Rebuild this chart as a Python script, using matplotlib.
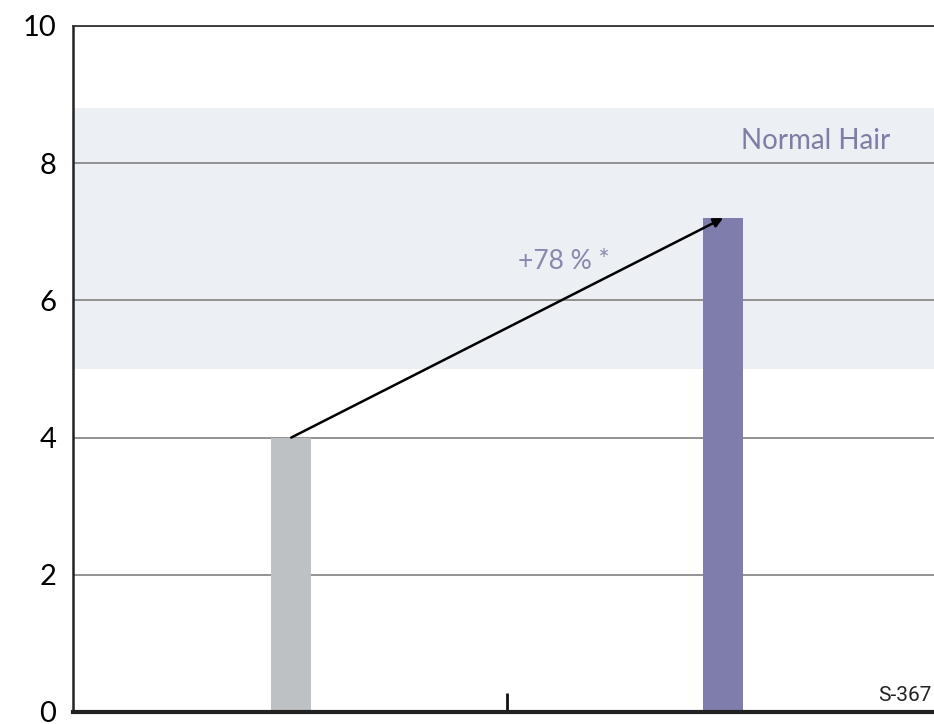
import matplotlib
matplotlib.use("Agg")
import matplotlib.pyplot as plt

# Data
categories = ["Before", "After"]
values = [4.0, 7.2]
bar_colors = ["#bdc1c3", "#7f7dab"]
yticks = [0, 2, 4, 6, 8, 10]
normal_band = (5.0, 8.8)
change_label = "+78 % *"
band_label = "Normal Hair"
code_label = "S-367"

plt.rcParams['font.family'] = ['Lato', 'DejaVu Sans']

fig = plt.figure(figsize=(9.34, 7.24), dpi=100)
ax = fig.add_axes([0.0782, 0.0166, 0.9218, 0.9475])

x = list(range(len(categories)))
ax.set_xlim(-0.505, 1.488)
ax.set_ylim(0, 10)

# Normal band
ax.axhspan(normal_band[0], normal_band[1], color="#eceff3", zorder=0, lw=0)

# gridlines
for t in yticks[1:]:
    ax.axhline(t, color="#8a8a8a", lw=1.3, zorder=1)

ax.bar(x, values, width=0.093, color=bar_colors, zorder=2)

# arrow
ax.annotate("", xy=(x[1], values[1]), xytext=(x[0], values[0]),
            arrowprops=dict(arrowstyle="-|>", color="black", lw=1.8,
                            mutation_scale=14, shrinkA=0, shrinkB=0),
            zorder=4)

ax.text(0.63, 6.56, change_label, color="#8a87ad", fontsize=19,
        ha="center", va="center", zorder=5)
ax.text(1.213, 8.32, band_label, color="#7f7da6", fontsize=20,
        ha="center", va="center", zorder=5)
ax.text(1.483, 0.1, code_label, color="#222222", fontsize=15,
        family=['Liberation Sans Narrow', 'Roboto', 'DejaVu Sans'],
        fontstretch="condensed",
        ha="right", va="bottom", zorder=5)

# middle tick
ax.set_xticks([0.5])
ax.set_xticklabels([])
ax.tick_params(axis="x", direction="in", length=14, width=2, color="#111111")

ax.set_yticks(yticks)
ax.set_yticklabels([str(t) for t in yticks], fontsize=21)
ax.tick_params(axis="y", length=0, pad=12)

ax.spines["right"].set_visible(False)
ax.spines["top"].set_color("#333333")
ax.spines["top"].set_linewidth(1.3)
ax.spines["left"].set_color("#222222")
ax.spines["left"].set_linewidth(1.8)
ax.spines["bottom"].set_color("#222222")
ax.spines["bottom"].set_linewidth(3)

fig.savefig("out.png", dpi=100)
